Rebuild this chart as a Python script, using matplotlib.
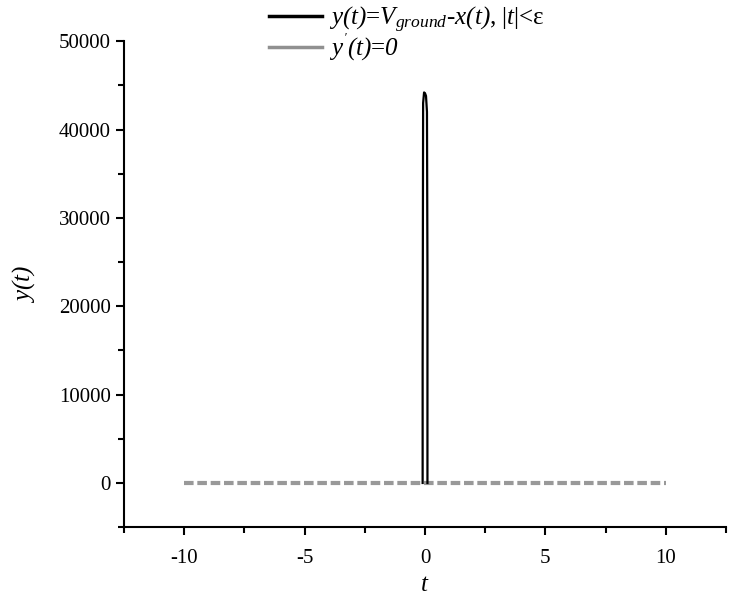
import matplotlib
matplotlib.use("Agg")
import matplotlib.pyplot as plt
from matplotlib.lines import Line2D
from matplotlib.ticker import MultipleLocator

plt.rcParams['font.family'] = ['Liberation Serif', 'DejaVu Serif']
plt.rcParams['mathtext.fontset'] = 'custom'
plt.rcParams['mathtext.rm'] = 'Liberation Serif:italic'
plt.rcParams['mathtext.it'] = 'Liberation Serif:italic'
plt.rcParams['axes.unicode_minus'] = False

# Spike data y(t) = V_ground - x(t), |t| < eps
t_spike = [-0.1, -0.1, -0.08, -0.04, 0.0, 0.04, 0.08, 0.1, 0.1]
y_spike = [0, 13000, 43000, 44200, 44100, 43800, 42000, 24000, 0]

# Zero derivative line
t_flat = [-10, 10]
y_flat = [0, 0]

label_spike = r"$y(t)$=$V_{ground}$-$x(t)$, |$t$|<ε"
label_flat = r"$y^{'}(t)$=$0$"

fig = plt.figure(figsize=(7.30, 5.97), dpi=100)
ax = fig.add_axes([0.170, 0.117, 0.8245, 0.814])

ax.plot(t_flat, y_flat, color='#999999', lw=3.0, linestyle=(0, (2.3, 0.9)))
ax.plot(t_spike, y_spike, color='black', lw=1.6)

ax.set_xlim(-12.5, 12.5)
ax.set_ylim(-5000, 50000)
ax.xaxis.set_minor_locator(MultipleLocator(2.5))
ax.yaxis.set_minor_locator(MultipleLocator(5000))
ax.set_xticks([-10, -5, 0, 5, 10])
ax.set_yticks([0, 10000, 20000, 30000, 40000, 50000])

for s in ['top', 'right']:
    ax.spines[s].set_visible(False)
for s in ['left', 'bottom']:
    ax.spines[s].set_linewidth(1.5)

ax.tick_params(axis='both', which='major', direction='out', length=6, width=1.5, labelsize=15)
ax.tick_params(axis='both', which='minor', direction='out', length=4, width=1.5)
ax.tick_params(axis='x', pad=10)

ax.set_xlabel(r"$t$", fontsize=18, labelpad=4)
ax.set_ylabel(r"$y(t)$", fontsize=18, labelpad=16)

handles = [Line2D([0], [0], color='black', lw=2.5),
           Line2D([0], [0], color='#909090', lw=2.5)]
leg = fig.legend(handles, [label_spike, label_flat], loc='upper left',
                 bbox_to_anchor=(0.338, 1.03), frameon=False, fontsize=18,
                 handlelength=2.1, handletextpad=0.3, labelspacing=-0.12)

fig.savefig("out.png", dpi=100)
